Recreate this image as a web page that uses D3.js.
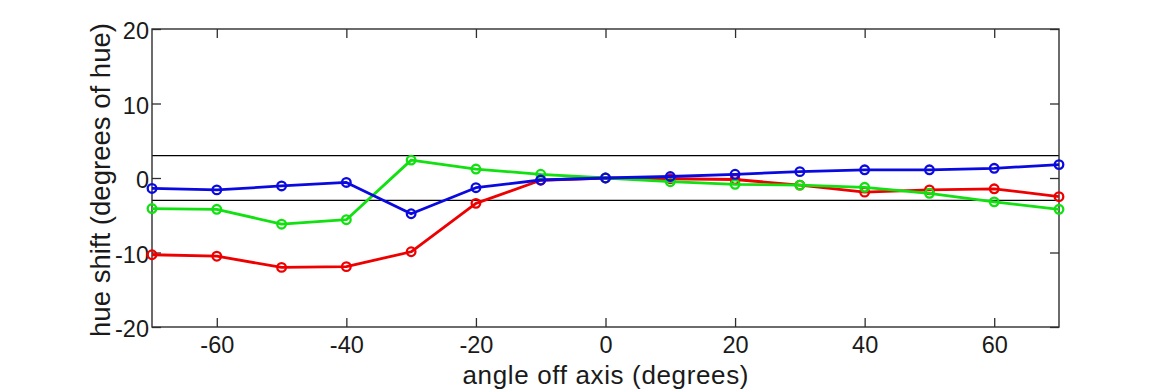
<!DOCTYPE html>
<html>
<head>
<meta charset="utf-8">
<script src="https://cdn.jsdelivr.net/npm/d3@7"></script>
<style>
html,body{margin:0;padding:0;background:#fff;}
svg{display:block;font-family:"Liberation Sans",Arial,Helvetica,sans-serif;}
</style>
</head>
<body>
<svg id="chart" width="1170" height="390"></svg>
<script>
const angles = [-70,-60,-50,-40,-30,-20,-10,0,10,20,30,40,50,60,70];
const redValues   = [-10.3,-10.5,-12.0,-11.9,-9.9,-3.4,-0.3,0,-0.1,-0.2,-0.95,-1.9,-1.6,-1.45,-2.5];
const greenValues = [-4.1,-4.2,-6.2,-5.6,2.4,1.2,0.5,0,-0.5,-0.85,-0.95,-1.25,-2.05,-3.2,-4.2];
const blueValues  = [-1.4,-1.6,-1.07,-0.6,-4.8,-1.3,-0.27,0,0.2,0.5,0.85,1.1,1.1,1.3,1.8];
const xTicks = [-60,-40,-20,0,20,40,60];
const yTicks = [-20,-10,0,10,20];
const refLines = [3,-3];
const series = [
  {name:"red", values: redValues, color:"#ee0000"},
  {name:"green", values: greenValues, color:"#11e011"},
  {name:"blue", values: blueValues, color:"#0a0ae0"}
];

const svg = d3.select("#chart");
const L = 152, R = 1059, T = 29, B = 327;
const x = d3.scaleLinear().domain([-70,70]).range([L,R]);
const y = d3.scaleLinear().domain([-20,20]).range([B,T]);
const axisColor = "#2e2e2e";
const textColor = "#1a1a1a";

// reference lines
svg.selectAll("line.ref").data(refLines).enter().append("line")
  .attr("class","ref")
  .attr("x1",L).attr("x2",R).attr("y1",d=>y(d)).attr("y2",d=>y(d))
  .attr("stroke","#000").attr("stroke-width",1.3);

// axes (inner ticks)
const tl = 9;
const fmt = d => String(d);
const gB = svg.append("g").attr("transform",`translate(0,${B})`)
  .call(d3.axisBottom(x).tickValues(xTicks).tickSize(-tl).tickFormat(fmt));
const gT = svg.append("g").attr("transform",`translate(0,${T})`)
  .call(d3.axisTop(x).tickValues(xTicks).tickSize(-tl).tickFormat(""));
const gL = svg.append("g").attr("transform",`translate(${L},0)`)
  .call(d3.axisLeft(y).tickValues(yTicks).tickSize(-tl).tickFormat(fmt));
const gR = svg.append("g").attr("transform",`translate(${R},0)`)
  .call(d3.axisRight(y).tickValues(yTicks).tickSize(-tl).tickFormat(""));
[gB,gT,gL,gR].forEach(g=>{
  g.select(".domain").remove();
  g.selectAll(".tick line").attr("stroke",axisColor).attr("stroke-width",1.3);
  g.selectAll(".tick text").attr("fill",textColor).attr("font-size",23.5)
    .attr("font-family","'Liberation Sans',Arial,sans-serif");
});
gB.selectAll(".tick text").attr("y",9).attr("dy","0.71em");
gL.selectAll(".tick text").attr("x",-3).attr("dy","0.42em");

// frame
svg.append("rect").attr("x",L).attr("y",T).attr("width",R-L).attr("height",B-T)
  .attr("fill","none").attr("stroke",axisColor).attr("stroke-width",1.4);

// series
const line = d3.line().x((d,i)=>x(angles[i])).y(d=>y(d));
series.forEach(s=>{
  svg.append("path").datum(s.values).attr("d",line)
    .attr("fill","none").attr("stroke",s.color).attr("stroke-width",2.8)
    .attr("stroke-linejoin","round");
  svg.append("g").selectAll("circle").data(s.values).enter().append("circle")
    .attr("cx",(d,i)=>x(angles[i])).attr("cy",d=>y(d)).attr("r",4.3)
    .attr("fill","none").attr("stroke",s.color).attr("stroke-width",2.3);
});

// axis labels
svg.append("text").attr("x",(L+R)/2).attr("y",384).attr("text-anchor","middle")
  .attr("font-size",26).attr("fill",textColor)
  .attr("textLength",286).attr("lengthAdjust","spacing")
  .text("angle off axis (degrees)");
svg.append("text").attr("transform",`translate(110,180) rotate(-90)`)
  .attr("text-anchor","middle").attr("font-size",28).attr("fill",textColor)
  .attr("textLength",314).attr("lengthAdjust","spacingAndGlyphs")
  .text("hue shift (degrees of hue)");
</script>
</body>
</html>
